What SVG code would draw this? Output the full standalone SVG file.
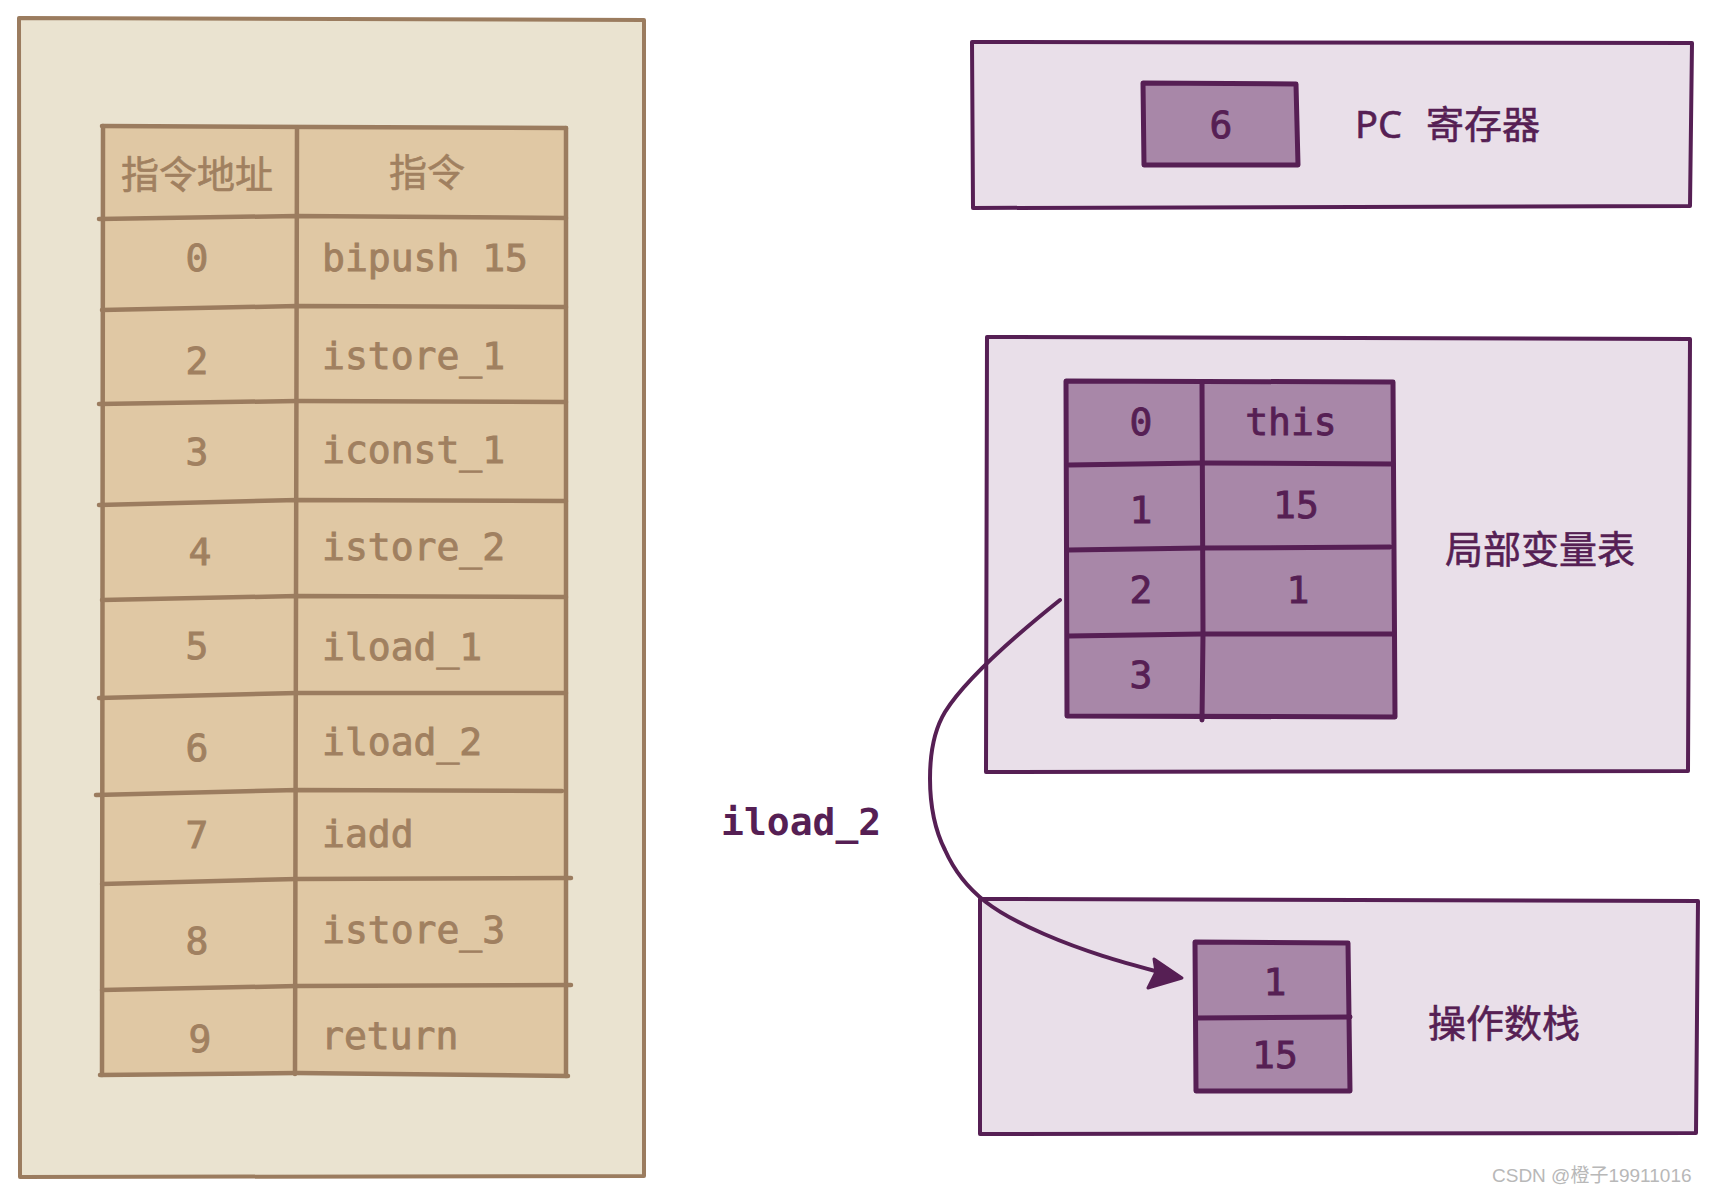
<svg xmlns="http://www.w3.org/2000/svg" width="1713" height="1193" viewBox="0 0 1713 1193">
<style>
.bg{fill:#ffffff}
.panelL{fill:#eae3d0;stroke:#9b7c5f;stroke-width:4;stroke-linejoin:round;stroke-linecap:round}
.cellL{fill:#e0c8a4}
.lineL{fill:none;stroke:#9b7c5f;stroke-width:4.5;stroke-linecap:round;stroke-linejoin:round}
.txtL{fill:#a08060;stroke:#a08060;stroke-width:0.9;font-family:"DejaVu Sans Mono","Liberation Mono",monospace;font-size:38px}
.cjkL{fill:#a08060;stroke:#a08060;stroke-width:0.6;font-family:"Noto Sans CJK SC",sans-serif;font-size:38px}
.panelP{fill:#e9dfe9;stroke:#561f54;stroke-width:4;stroke-linejoin:round;stroke-linecap:round}
.cellP{fill:#a887a8}
.lineP{fill:none;stroke:#561f54;stroke-width:5;stroke-linecap:round;stroke-linejoin:round}
.txtP{fill:#561f54;stroke:#561f54;stroke-width:0.9;font-family:"DejaVu Sans Mono","Liberation Mono",monospace;font-size:38px}
.cjkP{fill:#561f54;stroke:#561f54;stroke-width:0.6;font-family:"Noto Sans","Noto Sans CJK SC",sans-serif;font-size:38px}
.conn{fill:none;stroke:#561f54;stroke-width:4;stroke-linecap:round}
.wm{fill:#b8b8b8;font-family:"Liberation Sans","Noto Sans CJK SC",sans-serif;font-size:19px}
</style>
<rect class="bg" x="0" y="0" width="1713" height="1193"/>

<g id="instruction-panel">
  <path class="panelL" d="M19,18 L644,20 L644,1176 L20,1177 Z"/>
  <rect class="cellL" x="102" y="126" width="464" height="949"/>
  <g class="lineL">
    <path d="M102,126 L566,128"/>
    <path d="M103,126 L102,1075"/>
    <path d="M566,128 L566,1076"/>
    <path d="M297,128 L295,1074"/>
    <path d="M99,219 L297,216 L566,218"/>
    <path d="M102,310 L297,306 L566,307"/>
    <path d="M99,404 L297,401 L566,402"/>
    <path d="M99,505 L297,500 L566,501"/>
    <path d="M102,600 L297,596 L566,597"/>
    <path d="M99,698 L297,693 L566,693"/>
    <path d="M96,795 L297,790 L562,791"/>
    <path d="M102,884 L297,879 L571,878"/>
    <path d="M102,990 L297,986 L571,985"/>
    <path d="M100,1075 L297,1073 L568,1076"/>
  </g>
  <text class="cjkL" x="197" y="188" text-anchor="middle">指令地址</text>
  <text class="cjkL" x="427" y="186" text-anchor="middle">指令</text>
  <g class="txtL">
    <text x="197" y="271" text-anchor="middle">0</text>
    <text x="322" y="271">bipush 15</text>
    <text x="197" y="374" text-anchor="middle">2</text>
    <text x="322" y="369">istore_1</text>
    <text x="197" y="465" text-anchor="middle">3</text>
    <text x="322" y="463">iconst_1</text>
    <text x="200" y="565" text-anchor="middle">4</text>
    <text x="322" y="560">istore_2</text>
    <text x="197" y="659" text-anchor="middle">5</text>
    <text x="322" y="660">iload_1</text>
    <text x="197" y="761" text-anchor="middle">6</text>
    <text x="322" y="755">iload_2</text>
    <text x="197" y="848" text-anchor="middle">7</text>
    <text x="322" y="847">iadd</text>
    <text x="197" y="954" text-anchor="middle">8</text>
    <text x="322" y="943">istore_3</text>
    <text x="200" y="1052" text-anchor="middle">9</text>
    <text x="321" y="1049">return</text>
  </g>
</g>

<g id="pc-register">
  <path class="panelP" d="M972,42 L1692,43 L1690,206 L973,208 Z"/>
  <rect class="cellP" x="1143" y="84" width="155" height="81"/>
  <path class="lineP" d="M1143,83 L1296,84 L1298,165 L1144,165 Z"/>
  <text class="txtP" x="1221" y="138" text-anchor="middle">6</text>
  <text class="cjkP" x="1355" y="138" word-spacing="14">PC 寄存器</text>
</g>

<g id="local-variable-table">
  <path class="panelP" d="M987,337 L1690,339 L1688,771 L986,772 Z"/>
  <rect class="cellP" x="1066" y="381" width="329" height="336"/>
  <g class="lineP">
    <path d="M1066,381 L1393,382 L1395,717 L1067,716 Z"/>
    <path d="M1202,382 L1203,634 L1202,720"/>
    <path d="M1069,465 L1202,463 L1393,464"/>
    <path d="M1069,550 L1202,548 L1390,547"/>
    <path d="M1069,636 L1202,634 L1393,634"/>
  </g>
  <g class="txtP">
    <text x="1141" y="435" text-anchor="middle">0</text>
    <text x="1291" y="435" text-anchor="middle">this</text>
    <text x="1141" y="523" text-anchor="middle">1</text>
    <text x="1296" y="518" text-anchor="middle">15</text>
    <text x="1141" y="603" text-anchor="middle">2</text>
    <text x="1298" y="603" text-anchor="middle">1</text>
    <text x="1141" y="688" text-anchor="middle">3</text>
  </g>
  <text class="cjkP" x="1445" y="563">局部变量表</text>
</g>

<g id="operand-stack">
  <path class="panelP" d="M980,899 L1698,901 L1696,1133 L980,1134 Z"/>
  <rect class="cellP" x="1195" y="942" width="154" height="149"/>
  <g class="lineP">
    <path d="M1195,942 L1348,943 L1350,1091 L1196,1091 Z"/>
    <path d="M1196,1018 L1350,1017"/>
  </g>
  <g class="txtP">
    <text x="1275" y="995" text-anchor="middle">1</text>
    <text x="1275" y="1068" text-anchor="middle">15</text>
  </g>
  <text class="cjkP" x="1428" y="1037">操作数栈</text>
</g>

<g id="connectors">
  <path class="conn" d="M1060,600 C1010,640 965,680 945,712 C925,745 925,810 945,850 C965,895 1000,915 1044,934 C1090,954 1130,964 1170,975"/>
  <path fill="#561f54" stroke="#561f54" stroke-width="3" stroke-linejoin="round" d="M1182,978 L1148,988 L1156,972 L1154,959 Z"/>
  <text x="721" y="835" fill="#561f54" font-family="'DejaVu Sans Mono','Liberation Mono',monospace" font-size="38" font-weight="bold">iload_2</text>
</g>

<text class="wm" x="1492" y="1182">CSDN @橙子19911016</text>
</svg>
